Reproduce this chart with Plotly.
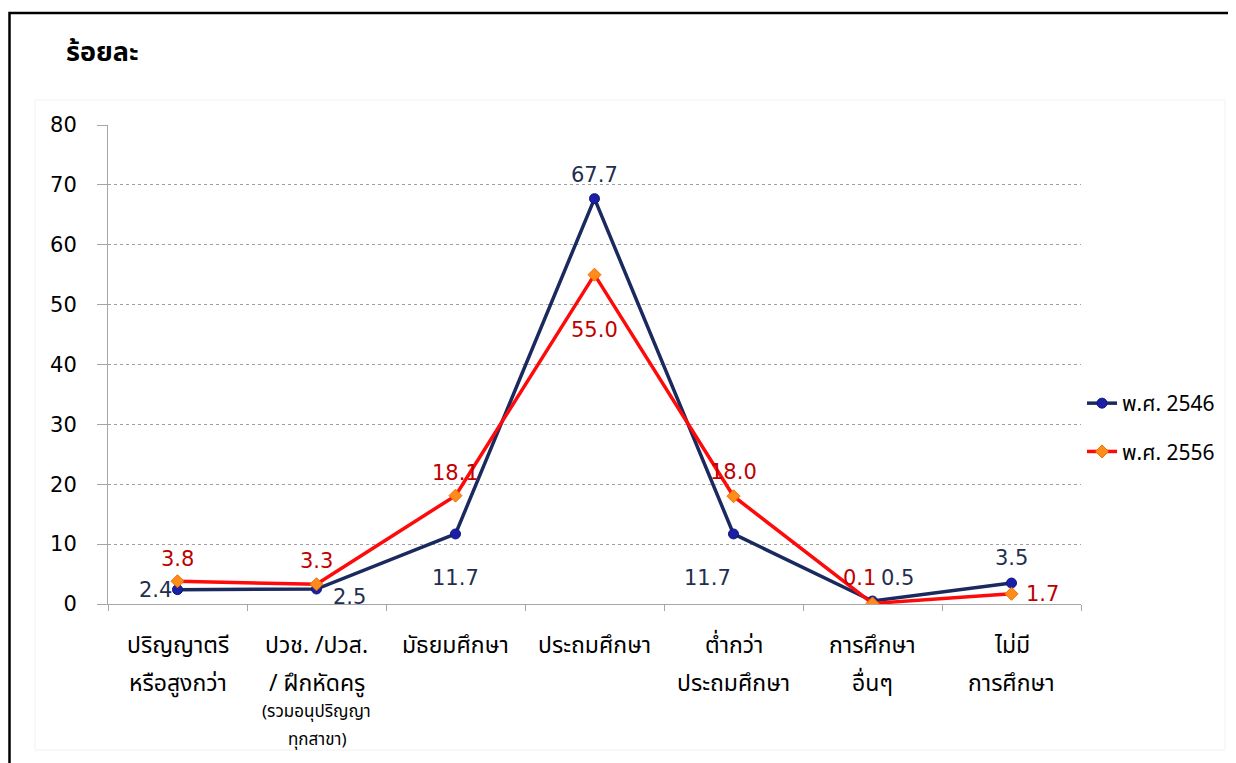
import plotly.graph_objects as go

categories = ["ปริญญาตรี", "ปวช.", "มัธยมศึกษา", "ประถมศึกษา", "ต่ำกว่าประถม", "อื่นๆ", "ไม่มี"]
cat_line1 = ["ปริญญาตรี", "ปวช. /ปวส.", "มัธยมศึกษา", "ประถมศึกษา", "ต่ำกว่า", "การศึกษา", "ไม่มี"]
cat_line2 = ["หรือสูงกว่า", "/ ฝึกหัดครู", "", "", "ประถมศึกษา", "อื่นๆ", "การศึกษา"]
cat_sub = ["", "(รวมอนุปริญญา<br>ทุกสาขา)", "", "", "", "", ""]

series_names = ["พ.ศ. 2546", "พ.ศ. 2556"]
values_2546 = [2.4, 2.5, 11.7, 67.7, 11.7, 0.5, 3.5]
values_2556 = [3.8, 3.3, 18.1, 55.0, 18.0, 0.1, 1.7]
y_ticks = [0, 10, 20, 30, 40, 50, 60, 70, 80]

THAI = "Noto Sans Thai, Noto Sans Thai UI, Tahoma, Noto Sans, sans-serif"
NUM = "Tahoma, DejaVu Sans, Noto Sans, sans-serif"

OFF = 8  # page body margin
W, H = 1236 - OFF, 763 - OFF
X0, X1, Y0, Y1 = 108, 1081, 125, 604  # plot area in window pixels
L, R, T, B = X0 - OFF, W - (X1 - OFF), Y0 - OFF, H - (Y1 - OFF)
pw, ph = W - L - R, H - T - B
def px(x):
    return (x - X0) / pw
def py(y):
    return (Y1 - y) / ph

fig = go.Figure()
fig.add_trace(go.Scatter(
    x=categories, y=values_2546, name=series_names[0], mode="lines+markers", legendgroup="a",
    line=dict(color="#1B2A5E", width=3.5),
    marker=dict(symbol="circle", size=10, color="#1A1FA8", line=dict(color="#10157a", width=1)),
))
fig.add_trace(go.Scatter(
    x=categories, y=values_2556, name=series_names[1], mode="lines+markers", legendgroup="b",
    line=dict(color="#FF0A0A", width=3.5),
    marker=dict(symbol="diamond", size=10, color="#FF8C1A", line=dict(color="#E87000", width=1)),
))

# data labels
shift_2546 = [(-4, 0, "right"), (14, -8, "left"), (0, -44, "center"), (0, 24, "center"),
              (-26, -44, "center"), (25, 23, "center"), (0, 25, "center")]
shift_2556 = [(0, 22, "center"), (0, 23, "center"), (0, 23, "center"), (0, -55, "center"),
              (0, 24, "center"), (-13, 25, "center"), (12, 0, "left")]
for vals, shifts, col in [(values_2546, shift_2546, "#1F2F4F"), (values_2556, shift_2556, "#C00000")]:
    for c, v, (xs, ys, xa) in zip(categories, vals, shifts):
        fig.add_annotation(x=c, y=v, xref="x", yref="y", text=f"{v:.1f}", showarrow=False,
                           xshift=xs, yshift=ys, xanchor=xa, yanchor="middle",
                           font=dict(family=NUM, size=21, color=col))

# category labels
for c, l1, l2, s in zip(categories, cat_line1, cat_line2, cat_sub):
    fig.add_annotation(x=c, y=py(646), xref="x", yref="paper", text=l1, showarrow=False,
                       yanchor="middle", font=dict(family=THAI, size=23, color="#000000"))
    if l2:
        fig.add_annotation(x=c, y=py(684), xref="x", yref="paper", text=l2, showarrow=False,
                           yanchor="middle", font=dict(family=THAI, size=23, color="#000000"))
    if s:
        for i, part in enumerate(s.split("<br>")):
            fig.add_annotation(x=c, y=py(712 + 28 * i), xref="x", yref="paper", text=part,
                               showarrow=False, yanchor="middle",
                               font=dict(family=THAI, size=17, color="#000000"))

# y title
fig.add_annotation(x=px(64), y=py(52), xref="paper", yref="paper", text="<b>ร้อยละ</b>",
                   showarrow=False, xanchor="left", yanchor="middle",
                   font=dict(family=THAI, size=27, color="#000000"))

# faint chart area box and outer frame
fig.add_shape(type="rect", xref="paper", yref="paper", x0=px(35), x1=px(1225), y0=py(750), y1=py(100),
              line=dict(color="#F2F2F2", width=1), layer="below")
fig.add_shape(type="rect", xref="paper", yref="paper", x0=px(9.5), x1=px(1300), y0=py(830), y1=py(13),
              line=dict(color="#000000", width=2.5))

fig.update_layout(
    width=W, height=H,
    margin=dict(l=L, r=R, t=T, b=B, pad=0),
    paper_bgcolor="white", plot_bgcolor="white",
    showlegend=True,
    legend=dict(x=px(1082), y=py(383), xanchor="left", yanchor="top",
                font=dict(family=THAI, size=21, color="#000000"),
                bgcolor="rgba(0,0,0,0)", tracegroupgap=18, itemwidth=30),
    xaxis=dict(type="category", range=[-0.5, 6.5], showticklabels=False,
               showline=True, linecolor="#A6A6A6", linewidth=1,
               ticks="outside", tickson="boundaries", ticklen=6, tickcolor="#A6A6A6",
               showgrid=False, zeroline=False),
    yaxis=dict(range=[0, 80], tickvals=y_ticks, showline=True, linecolor="#A6A6A6", linewidth=1,
               ticks="outside", ticklen=10, tickcolor="#A6A6A6",
               gridcolor="#A0A0A0", griddash="dot", gridwidth=1, zeroline=False,
               ticklabelstandoff=16,
               tickfont=dict(family=NUM, size=21, color="#000000")),
)

fig.write_html("out.html")
